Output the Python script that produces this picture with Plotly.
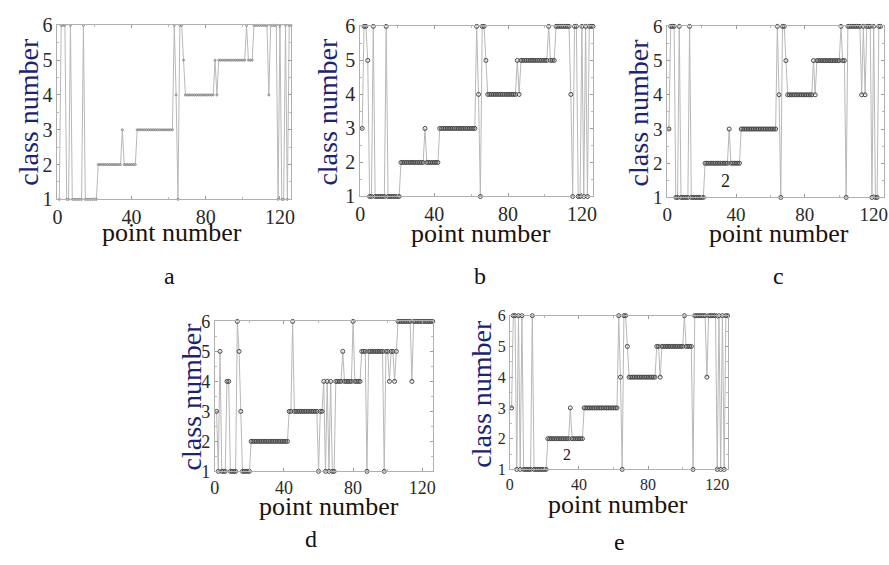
import plotly.graph_objects as go

# ---------------- data (class number assigned to each of the 126 points) ----------------
point_numbers = list(range(1, 127))

class_a = [1, 6, 6, 6, 1, 1, 6, 1, 1, 1, 1, 1, 1, 6, 1, 1, 1, 1, 1, 1, 1,
           2, 2, 2, 2, 2, 2, 2, 2, 2, 2, 2, 2, 2, 3, 2, 2, 2, 2, 2, 2, 2,
           3, 3, 3, 3, 3, 3, 3, 3, 3, 3, 3, 3, 3, 3, 3, 3, 3, 3, 3, 3, 6,
           4, 1, 6, 6, 5, 4, 4, 4, 4, 4, 4, 4, 4, 4, 4, 4, 4, 4, 4, 4, 4,
           5, 4, 5, 5, 5, 5, 5, 5, 5, 5, 5, 5, 5, 5, 5, 5, 5, 6, 5, 5, 5,
           6, 6, 6, 6, 6, 6, 6, 6, 4, 6, 6, 6, 6, 1, 6, 1, 1, 6, 1, 6, 6]

class_b = [3, 6, 6, 5, 1, 1, 6, 1, 1, 1, 1, 1, 1, 6, 1, 1, 1, 1, 1, 1, 1,
           2, 2, 2, 2, 2, 2, 2, 2, 2, 2, 2, 2, 2, 3, 2, 2, 2, 2, 2, 2, 2,
           3, 3, 3, 3, 3, 3, 3, 3, 3, 3, 3, 3, 3, 3, 3, 3, 3, 3, 3, 3, 6,
           4, 1, 6, 6, 5, 4, 4, 4, 4, 4, 4, 4, 4, 4, 4, 4, 4, 4, 4, 4, 4,
           5, 4, 5, 5, 5, 5, 5, 5, 5, 5, 5, 5, 5, 5, 5, 5, 5, 6, 5, 5, 5,
           6, 6, 6, 6, 6, 6, 6, 6, 4, 1, 6, 6, 1, 1, 6, 1, 6, 1, 6, 6, 6]

class_c = [3, 6, 6, 6, 1, 1, 6, 1, 1, 1, 1, 1, 6, 1, 1, 1, 1, 1, 1, 1, 1,
           2, 2, 2, 2, 2, 2, 2, 2, 2, 2, 2, 2, 2, 2, 3, 2, 2, 2, 2, 2, 2,
           3, 3, 3, 3, 3, 3, 3, 3, 3, 3, 3, 3, 3, 3, 3, 3, 3, 3, 3, 3, 3,
           6, 4, 1, 6, 6, 5, 4, 4, 4, 4, 4, 4, 4, 4, 4, 4, 4, 4, 4, 4, 4,
           5, 4, 5, 5, 5, 5, 5, 5, 5, 5, 5, 5, 5, 5, 5, 5, 6, 5, 5, 1, 6,
           6, 6, 6, 6, 6, 6, 6, 4, 6, 4, 6, 6, 6, 1, 6, 1, 1, 6, 6]

class_d = [3, 1, 5, 1, 1, 1, 4, 4, 1, 1, 1, 1, 6, 5, 3, 1, 1, 1, 1, 1,
           2, 2, 2, 2, 2, 2, 2, 2, 2, 2, 2, 2, 2, 2, 2, 2, 2, 2, 2, 2, 2, 2,
           3, 3, 6, 3, 3, 3, 3, 3, 3, 3, 3, 3, 3, 3, 3, 3, 3, 1, 3, 3,
           4, 1, 4, 1, 4, 1, 1, 4, 4, 4, 4, 5, 4, 4, 4, 4, 4, 6, 4, 4, 4, 4,
           5, 5, 5, 1, 5, 5, 5, 5, 5, 5, 5, 5, 5, 1, 5, 5, 4, 5, 5, 4, 5,
           6, 6, 6, 6, 6, 6, 6, 6, 4, 6, 6, 6, 6, 6, 6, 6, 6, 6, 6, 6, 6]

class_e = [3, 6, 6, 1, 6, 1, 6, 1, 1, 1, 1, 1, 6, 1, 1, 1, 1, 1, 1, 1, 1,
           2, 2, 2, 2, 2, 2, 2, 2, 2, 2, 2, 2, 2, 3, 2, 2, 2, 2, 2, 2, 2,
           3, 3, 3, 3, 3, 3, 3, 3, 3, 3, 3, 3, 3, 3, 3, 3, 3, 3, 3, 3, 6,
           4, 1, 6, 6, 5, 4, 4, 4, 4, 4, 4, 4, 4, 4, 4, 4, 4, 4, 4, 4, 4,
           5, 5, 4, 5, 5, 5, 5, 5, 5, 5, 5, 5, 5, 5, 5, 5, 6, 5, 5, 5, 5,
           1, 6, 6, 6, 6, 6, 6, 6, 4, 6, 6, 6, 6, 6, 1, 6, 1, 6, 1, 6, 6]

x_tick_vals = [0, 40, 80, 120]
y_tick_vals = [1, 2, 3, 4, 5, 6]
panel_letters = ["a", "b", "c", "d", "e"]
y_title = "class number"
x_title = "point number"

series = [class_a, class_b, class_c, class_d, class_e]

# ---------------- layout geometry (pixels in the 889x565 canvas) ----------------
W, H = 889, 565
boxes = [  # x0, x1, y0(top), y1(bottom)
    (53, 289, 15, 196),
    (359, 594, 16, 193),
    (669, 888, 16, 194),
    (212, 432, 323, 479),
    (510, 730, 317, 477),
]
tick_font_sizes = [20, 20, 19, 18, 16]
ytitle_pos = [(24, 105), (326, 105), (640, 106), (188, 401), (481, 398)]
xtitle_pos = [(169, 230), (481, 231), (782, 231), (327, 516), (619, 513)]
letter_pos = [(166, 276), (480, 276), (781, 276), (309, 549), (621, 552)]

serif = "Liberation Serif, Times New Roman, serif"

fig = go.Figure()
for k, ys in enumerate(series):
    sfx = "" if k == 0 else str(k + 1)
    if k == 0:
        marker = dict(symbol="circle-open", size=2, color="#8a8a8a", line=dict(width=1, color="#8a8a8a"))
    else:
        marker = dict(symbol="circle-open", size=4, color="#474747", line=dict(width=1, color="#474747"))
    fig.add_trace(go.Scatter(
        x=point_numbers, y=ys, mode="lines+markers",
        line=dict(color="#b8b8b8", width=1),
        marker=marker, cliponaxis=False, showlegend=False,
        xaxis="x" + sfx, yaxis="y" + sfx,
    ))

layout = dict(
    width=W, height=H, margin=dict(l=0, r=0, t=0, b=0),
    paper_bgcolor="white", plot_bgcolor="white", showlegend=False,
)
annotations = []
for k, (x0, x1, y0, y1) in enumerate(boxes):
    sfx = "" if k == 0 else str(k + 1)
    fs = tick_font_sizes[k]
    layout["xaxis" + sfx] = dict(
        domain=[x0 / W, x1 / W], range=[0, 126], anchor="y" + sfx,
        tickvals=x_tick_vals, ticks="inside", ticklen=3, tickcolor="#999999",
        showline=True, mirror="ticks", linecolor="#b0b0b0", linewidth=1,
        showgrid=False, zeroline=False,
        tickfont=dict(family=serif, size=fs, color="#2a2a2a"),
        minor=dict(dtick=20, ticks="inside", ticklen=2, tickcolor="#bbbbbb"),
    )
    layout["yaxis" + sfx] = dict(
        domain=[1 - y1 / H, 1 - y0 / H], range=[1, 6], anchor="x" + sfx,
        tickvals=y_tick_vals, ticks="inside", ticklen=3, tickcolor="#999999",
        showline=True, mirror="ticks", linecolor="#b0b0b0", linewidth=1,
        showgrid=False, zeroline=False,
        tickfont=dict(family=serif, size=fs, color="#2a2a2a"),
        minor=dict(dtick=0.5, ticks="inside", ticklen=2, tickcolor="#bbbbbb"),
    )
    tx, ty = ytitle_pos[k]
    annotations.append(dict(
        text=y_title, x=tx / W, y=1 - ty / H, xref="paper", yref="paper",
        xanchor="center", yanchor="middle", textangle=-90, showarrow=False,
        font=dict(family=serif, size=28, color="#1c2472"),
    ))
    tx, ty = xtitle_pos[k]
    annotations.append(dict(
        text=x_title, x=tx / W, y=1 - ty / H, xref="paper", yref="paper",
        xanchor="center", yanchor="middle", showarrow=False,
        font=dict(family=serif, size=26, color="#1c1208"),
    ))
    tx, ty = letter_pos[k]
    annotations.append(dict(
        text=panel_letters[k], x=tx / W, y=1 - ty / H, xref="paper", yref="paper",
        xanchor="center", yanchor="middle", showarrow=False,
        font=dict(family=serif, size=24, color="#111111"),
    ))

# the "2" labels under the class-2 plateau in panels c and e
annotations.append(dict(text="2", x=34, y=1.49, xref="x3", yref="y3", showarrow=False,
                        font=dict(family=serif, size=18, color="#222222")))
annotations.append(dict(text="2", x=33, y=1.47, xref="x5", yref="y5", showarrow=False,
                        font=dict(family=serif, size=16, color="#222222")))

layout["annotations"] = annotations
fig.update_layout(**layout)
fig.write_html(
    "out.html",
    config={"displayModeBar": False},
    post_script="document.body.style.margin='0';document.body.style.padding='0';",
)
